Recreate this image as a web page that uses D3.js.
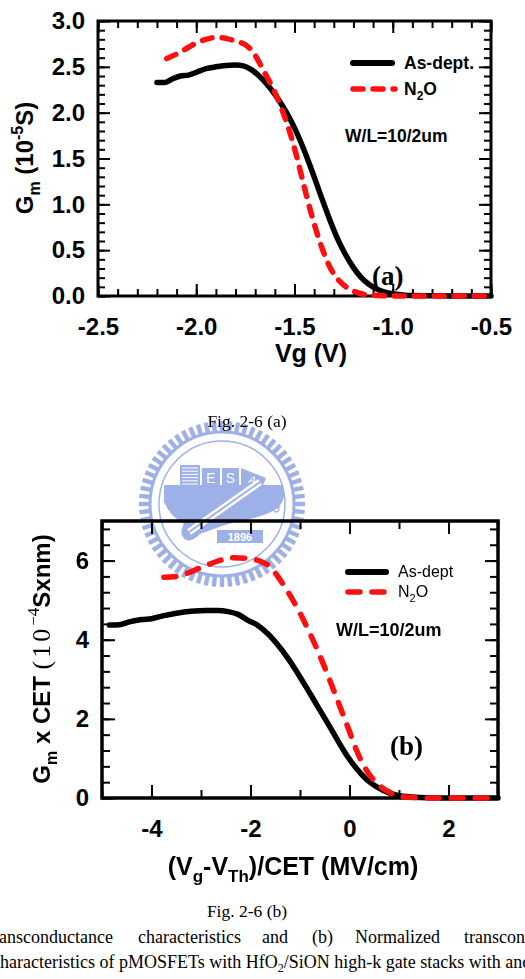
<!DOCTYPE html>
<html>
<head>
<meta charset="utf-8">
<script src="https://cdn.jsdelivr.net/npm/d3@7"></script>
<style>
  html, body { margin: 0; padding: 0; background: #fff; }
  svg { display: block; }
</style>
</head>
<body>
<svg id="chart" width="525" height="979"></svg>
<script>
// ---- Fig. 2-6 (a): Gm vs Vg ----
const asDeptA_vg = [-2.20, -2.16, -2.12, -2.08, -2.04, -2.00, -1.95, -1.90, -1.85, -1.80, -1.76, -1.72, -1.68, -1.64, -1.60, -1.56, -1.52, -1.48, -1.44, -1.40, -1.36, -1.32, -1.28, -1.24, -1.20, -1.16, -1.12, -1.08, -1.04, -1.00, -0.95, -0.90, -0.80, -0.70, -0.60, -0.50]
const asDeptA_gm = [2.33, 2.33, 2.37, 2.40, 2.41, 2.44, 2.48, 2.50, 2.515, 2.52, 2.51, 2.47, 2.40, 2.31, 2.20, 2.07, 1.92, 1.74, 1.53, 1.30, 1.06, 0.83, 0.62, 0.45, 0.31, 0.20, 0.125, 0.075, 0.042, 0.024, 0.012, 0.005, 0.002, 0, 0, 0]
const n2oA_vg = [-2.15, -2.10, -2.05, -2.00, -1.95, -1.90, -1.85, -1.80, -1.75, -1.71, -1.68, -1.64, -1.60, -1.565, -1.53, -1.49, -1.455, -1.42, -1.38, -1.34, -1.30, -1.26, -1.22, -1.17, -1.10, -1.00, -0.80, -0.60, -0.50]
const n2oA_gm = [2.59, 2.64, 2.70, 2.76, 2.80, 2.82, 2.81, 2.78, 2.74, 2.66, 2.55, 2.39, 2.22, 2.04, 1.83, 1.53, 1.23, 0.94, 0.65, 0.41, 0.24, 0.14, 0.075, 0.03, 0.008, 0, 0, 0, 0]
const xTicksA = [-2.5, -2.0, -1.5, -1.0, -0.5]
const xTickLabelsA = ['-2.5', '-2.0', '-1.5', '-1.0', '-0.5']
const yTicksA = [0, 0.5, 1.0, 1.5, 2.0, 2.5, 3.0]
const yTickLabelsA = ['0.0', '0.5', '1.0', '1.5', '2.0', '2.5', '3.0']

// ---- Fig. 2-6 (b): Gm x CET vs (Vg-Vth)/CET ----
const asDeptB_x = [-4.85, -4.65, -4.45, -4.20, -4.00, -3.75, -3.50, -3.20, -2.90, -2.65, -2.45, -2.25, -2.05, -1.85, -1.65, -1.45, -1.25, -1.05, -0.85, -0.65, -0.45, -0.25, -0.05, 0.15, 0.35, 0.55, 0.80, 1.00, 1.25, 1.60, 2.00, 2.50, 3.00]
const asDeptB_y = [4.37, 4.38, 4.45, 4.51, 4.53, 4.61, 4.67, 4.72, 4.74, 4.74, 4.71, 4.64, 4.49, 4.36, 4.15, 3.87, 3.54, 3.16, 2.75, 2.33, 1.91, 1.48, 1.07, 0.73, 0.46, 0.28, 0.13, 0.06, 0.025, 0.005, 0, 0, 0]
const n2oB_x = [-3.75, -3.55, -3.30, -3.05, -2.85, -2.60, -2.35, -2.10, -1.80, -1.60, -1.40, -1.20, -1.00, -0.80, -0.60, -0.40, -0.20, 0.00, 0.15, 0.30, 0.45, 0.65, 0.85, 1.05, 1.30, 1.60, 2.00, 2.50, 3.00]
const n2oB_y = [5.58, 5.59, 5.67, 5.80, 5.90, 6.01, 6.07, 6.06, 5.98, 5.84, 5.51, 5.12, 4.67, 4.16, 3.60, 2.98, 2.33, 1.68, 1.18, 0.79, 0.51, 0.27, 0.12, 0.04, 0.01, 0, 0, 0, 0]
const xTicksB = [-4, -2, 0, 2]
const xTickLabelsB = ['-4', '-2', '0', '2']
const yTicksB = [0, 2, 4, 6]
const yTickLabelsB = ['0', '2', '4', '6']

const SANS = '"Liberation Sans", Arial, sans-serif'
const SERIF = '"Liberation Serif", "Times New Roman", serif'
const RED = '#ff1010'

const svg = d3.select('#chart')
svg.append('rect').attr('width', 525).attr('height', 979).attr('fill', '#fff')

// 透かし（大学ロゴ）
function drawWatermark(cx, cy) {
  const c = '#93a7e6'
  const w = svg.append('g').attr('transform', `translate(${cx},${cy})`).attr('opacity', 0.9)
  const nTeeth = 64
  for (let i = 0; i < nTeeth; i++) {
    w.append('rect')
      .attr('x', -2.2).attr('y', -83).attr('width', 4.4).attr('height', 11)
      .attr('fill', c)
      .attr('transform', `rotate(${i * 360 / nTeeth})`)
  }
  w.append('circle').attr('r', 72).attr('fill', 'none').attr('stroke', c).attr('stroke-width', 3)
  w.append('circle').attr('r', 63).attr('fill', 'none').attr('stroke', c).attr('stroke-width', 1.5)
  // base silhouette
  w.append('path')
    .attr('d', 'M -58 -19 L 60 -19 Q 66 -8 56 4 Q 40 14 20 16 L 0 22 L -22 30 Q -30 38 -36 36 Q -44 30 -38 20 Q -52 12 -58 -2 Z')
    .attr('fill', c)
  // building blocks
  w.append('rect').attr('x', -42).attr('y', -39).attr('width', 20).attr('height', 21).attr('fill', c)
  for (let i = 0; i < 6; i++) {
    w.append('line').attr('x1', -40).attr('x2', -24)
      .attr('y1', -36 + i * 3.2).attr('y2', -36 + i * 3.2)
      .attr('stroke', '#fff').attr('stroke-width', 1)
  }
  w.append('rect').attr('x', -20).attr('y', -36).attr('width', 18).attr('height', 18).attr('fill', c)
  w.append('rect').attr('x', 0).attr('y', -36).attr('width', 17).attr('height', 18).attr('fill', c)
  w.append('path').attr('d', 'M 19 -36 L 44 -26 L 40 -16 L 19 -18 Z').attr('fill', c)
  w.append('text').attr('x', -11).attr('y', -21).attr('text-anchor', 'middle')
    .attr('font-family', SANS).attr('font-size', 14).attr('fill', '#fff').text('E')
  w.append('text').attr('x', 8.5).attr('y', -21).attr('text-anchor', 'middle')
    .attr('font-family', SANS).attr('font-size', 14).attr('fill', '#fff').text('S')
  w.append('text').attr('x', 31).attr('y', -20).attr('text-anchor', 'middle')
    .attr('font-family', SANS).attr('font-size', 11).attr('fill', '#fff')
    .attr('transform', 'rotate(22,31,-24)').text('A')
  // diagonal bar
  w.append('line').attr('x1', -33).attr('y1', 28).attr('x2', 38).attr('y2', -22)
    .attr('stroke', '#fff').attr('stroke-width', 7)
  w.append('line').attr('x1', -33).attr('y1', 28).attr('x2', 38).attr('y2', -22)
    .attr('stroke', c).attr('stroke-width', 2)
  w.append('ellipse').attr('cx', 54).attr('cy', 3).attr('rx', 3).attr('ry', 5)
    .attr('fill', 'none').attr('stroke', c).attr('stroke-width', 1.5)
  // 1896
  w.append('rect').attr('x', -5).attr('y', 26).attr('width', 46).attr('height', 13).attr('fill', c)
  w.append('text').attr('x', 18).attr('y', 37).attr('text-anchor', 'middle')
    .attr('font-family', SANS).attr('font-weight', 'bold').attr('font-size', 11)
    .attr('fill', '#fff').text('1896')
}

// 4辺の内向き目盛りと枠
function drawFrame(g, x, y, cfg) {
  const [x0, x1] = x.range()
  const [y0, y1] = y.range()

  const styleAxis = (sel) => {
    sel.select('.domain').remove()
    sel.selectAll('line').attr('stroke', '#000').attr('stroke-width', 2)
    sel.selectAll('text')
      .attr('fill', '#000')
      .style('font-family', SANS)
      .style('font-weight', 'bold')
      .style('font-size', cfg.fontSize + 'px')
  }

  const sides = [
    [() => d3.axisBottom(x), `translate(0,${y0})`, cfg.xMinor, cfg.xMajor, cfg.xLabels, cfg.xPad],
    [() => d3.axisTop(x), `translate(0,${y1})`, cfg.xMinor, cfg.xMajor, null, 0],
    [() => d3.axisLeft(y), `translate(${x0},0)`, cfg.yMinor, cfg.yMajor, cfg.yLabels, cfg.yPad],
    [() => d3.axisRight(y), `translate(${x1},0)`, cfg.yMinor, cfg.yMajor, null, 0]
  ]
  sides.forEach(([mk, tr, minor, major, labels, pad]) => {
    g.append('g').attr('transform', tr)
      .call(mk().tickValues(minor).tickSize(-cfg.minorLen).tickFormat(''))
      .call(styleAxis)
    g.append('g').attr('transform', tr)
      .call(mk().tickValues(major).tickSize(-cfg.majorLen).tickPadding(pad)
        .tickFormat((d, i) => labels ? labels[i] : ''))
      .call(styleAxis)
  })

  g.append('rect')
    .attr('x', x0).attr('y', y1)
    .attr('width', x1 - x0).attr('height', y0 - y1)
    .attr('fill', 'none').attr('stroke', '#000').attr('stroke-width', cfg.frameWidth)
}

function drawSeries(g, x, y, xs, ys, color, width, dash) {
  const pts = xs.map((v, i) => [v, ys[i]])
  const line = d3.line()
    .x(d => x(d[0]))
    .y(d => y(d[1]))
    .curve(d3.curveMonotoneX)
  g.append('path')
    .datum(pts)
    .attr('d', line)
    .attr('fill', 'none')
    .attr('stroke', color)
    .attr('stroke-width', width)
    .attr('stroke-linecap', 'round')
    .attr('stroke-linejoin', 'round')
    .attr('stroke-dasharray', dash || null)
}

function label(g, x, y, txt, size, opts = {}) {
  return g.append('text')
    .attr('x', x).attr('y', y)
    .attr('text-anchor', opts.anchor || 'start')
    .attr('font-family', opts.family || SANS)
    .attr('font-weight', opts.weight || 'bold')
    .attr('font-size', size)
    .attr('fill', '#000')
    .text(txt)
}

drawWatermark(222, 504)

// ================= (a) =================
const gA = svg.append('g')
const xA = d3.scaleLinear().domain([-2.5, -0.5]).range([98, 491])
const yA = d3.scaleLinear().domain([0, 3]).range([296, 21])

drawFrame(gA, xA, yA, {
  xMajor: xTicksA, xLabels: xTickLabelsA,
  xMinor: d3.range(0, 21).map(i => -2.5 + i * 0.1),
  yMajor: yTicksA, yLabels: yTickLabelsA,
  yMinor: d3.range(0, 31).map(i => i * 0.1),
  majorLen: 12, minorLen: 7, xPad: 22, yPad: 13,
  fontSize: 24, frameWidth: 3
})

drawSeries(gA, xA, yA, asDeptA_vg, asDeptA_gm, '#000', 5.5)
drawSeries(gA, xA, yA, n2oA_vg, n2oA_gm, RED, 5.5, '10,10')

// legend (a)
gA.append('line').attr('x1', 353).attr('x2', 392).attr('y1', 63).attr('y2', 63)
  .attr('stroke', '#000').attr('stroke-width', 6).attr('stroke-linecap', 'round')
gA.append('line').attr('x1', 353).attr('x2', 395).attr('y1', 89).attr('y2', 89)
  .attr('stroke', RED).attr('stroke-width', 5.5).attr('stroke-linecap', 'round')
  .attr('stroke-dasharray', '10,10')
label(gA, 404, 69, 'As-dept.', 17.5)
const n2oLabA = label(gA, 404, 95, 'N', 17.5)
n2oLabA.append('tspan').attr('font-size', 12).attr('dy', 5).text('2')
n2oLabA.append('tspan').attr('dy', -5).text('O')
label(gA, 345, 142, 'W/L=10/2um', 17.5)
label(gA, 372, 285, '(a)', 27, { family: SERIF })

// axis titles (a)
label(gA, 311, 362, 'Vg (V)', 25, { anchor: 'middle' })
const yTitleA = gA.append('text')
  .attr('transform', 'translate(33,158) rotate(-90)')
  .attr('text-anchor', 'middle')
  .attr('font-family', SANS).attr('font-weight', 'bold').attr('font-size', 24)
yTitleA.append('tspan').text('G')
yTitleA.append('tspan').attr('font-size', 16).attr('dy', 7).text('m')
yTitleA.append('tspan').attr('dy', -7).text(' (10')
yTitleA.append('tspan').attr('font-size', 16).attr('dy', -10).text('-5')
yTitleA.append('tspan').attr('dy', 10).text('S)')

label(svg, 247, 427, 'Fig. 2-6 (a)', 17.5, { anchor: 'middle', family: SERIF, weight: 'normal' })

// ================= (b) =================
const gB = svg.append('g')
const xB = d3.scaleLinear().domain([-5, 3]).range([102, 498])
const yB = d3.scaleLinear().domain([0, 7]).range([798, 521])

drawFrame(gB, xB, yB, {
  xMajor: xTicksB, xLabels: xTickLabelsB,
  xMinor: d3.range(-5, 4),
  yMajor: yTicksB, yLabels: yTickLabelsB,
  yMinor: d3.range(0, 18).map(i => i * 0.4),
  majorLen: 13, minorLen: 8, xPad: 22, yPad: 13,
  fontSize: 24, frameWidth: 3.5
})

drawSeries(gB, xB, yB, asDeptB_x, asDeptB_y, '#000', 5.5)
drawSeries(gB, xB, yB, n2oB_x, n2oB_y, RED, 5.5, '12,12')

// legend (b)
gB.append('line').attr('x1', 348).attr('x2', 386).attr('y1', 572).attr('y2', 572)
  .attr('stroke', '#000').attr('stroke-width', 6).attr('stroke-linecap', 'round')
gB.append('line').attr('x1', 348).attr('x2', 386).attr('y1', 592).attr('y2', 592)
  .attr('stroke', RED).attr('stroke-width', 5.5).attr('stroke-linecap', 'round')
  .attr('stroke-dasharray', '12,12')
label(gB, 398, 577, 'As-dept', 16, { weight: 'normal' })
const n2oLabB = label(gB, 398, 597, 'N', 16, { weight: 'normal' })
n2oLabB.append('tspan').attr('font-size', 11).attr('dy', 5).text('2')
n2oLabB.append('tspan').attr('dy', -5).text('O')
label(gB, 336, 636, 'W/L=10/2um', 18)
label(gB, 390, 755, '(b)', 27, { family: SERIF })

// axis titles (b)
const xTitleB = gB.append('text')
  .attr('x', 293).attr('y', 875).attr('text-anchor', 'middle')
  .attr('font-family', SANS).attr('font-weight', 'bold').attr('font-size', 25)
xTitleB.append('tspan').text('(V')
xTitleB.append('tspan').attr('font-size', 17).attr('dy', 7).text('g')
xTitleB.append('tspan').attr('dy', -7).text('-V')
xTitleB.append('tspan').attr('font-size', 17).attr('dy', 7).text('Th')
xTitleB.append('tspan').attr('dy', -7).text(')/CET (MV/cm)')

const yTitleB = gB.append('text')
  .attr('transform', 'translate(50,659) rotate(-90)')
  .attr('text-anchor', 'middle')
  .attr('font-family', SANS).attr('font-weight', 'bold').attr('font-size', 24)
yTitleB.append('tspan').text('G')
yTitleB.append('tspan').attr('font-size', 16).attr('dy', 7).text('m')
yTitleB.append('tspan').attr('dy', -7).text(' x CET ')
yTitleB.append('tspan').attr('font-family', SERIF).attr('font-weight', 'normal')
  .attr('font-size', 26).attr('letter-spacing', 3).text('(10')
yTitleB.append('tspan').attr('font-family', SERIF).attr('font-weight', 'normal')
  .attr('font-size', 17).attr('dy', -11).text('\u22124')
yTitleB.append('tspan').attr('dy', 11).text('Sxnm)')

label(svg, 247, 917, 'Fig. 2-6 (b)', 17.5, { anchor: 'middle', family: SERIF, weight: 'normal' })

// キャプション本文（両端揃え、参照画像と同じく左右が切れている）
const capWords = [
  ['Transconductance', 113, 'end'],
  ['characteristics', 138, 'start'],
  ['and', 262, 'start'],
  ['(b)', 312, 'start'],
  ['Normalized', 355, 'start'],
  ['transconductance', 464, 'start']
]
capWords.forEach(([w, x, a]) => {
  label(svg, x, 943, w, 18, { anchor: a, family: SERIF, weight: 'normal' })
})
const cap2 = label(svg, -8, 968, 'characteristics of pMOSFETs with HfO', 18, { family: SERIF, weight: 'normal' })
cap2.append('tspan').attr('font-size', 12).attr('dy', 4).text('2')
cap2.append('tspan').attr('dy', -4).text('/SiON high-k gate stacks with and without')
</script>
</body>
</html>
